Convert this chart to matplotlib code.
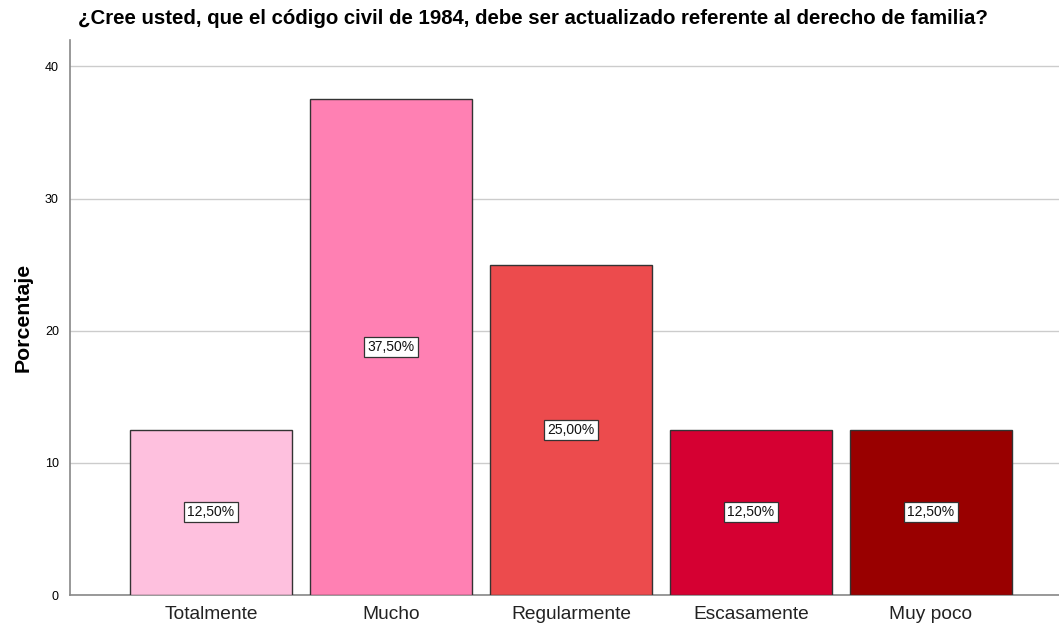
import matplotlib
matplotlib.use("Agg")
import matplotlib.pyplot as plt

categories = ["Totalmente", "Mucho", "Regularmente", "Escasamente", "Muy poco"]
values = [12.5, 37.5, 25.0, 12.5, 12.5]
labels = ["12,50%", "37,50%", "25,00%", "12,50%", "12,50%"]
colors = ["#FEC0DE", "#FF80B3", "#EC4B4D", "#D50032", "#990000"]
yticks = [0, 10, 20, 30, 40]

plt.rcParams['font.family'] = ['Liberation Sans', 'DejaVu Sans']

fig = plt.figure(figsize=(10.59, 6.27), dpi=100)
ax = fig.add_axes([70/1059, 1-595/627, (1059-70)/1059, (595-40)/627])

x = list(range(len(categories)))
ax.bar(x, values, width=0.9, color=colors, edgecolor="#333333", linewidth=1.0, zorder=3)
for xi, v, lab in zip(x, values, labels):
    ax.text(xi, v/2, lab, ha="center", va="center", fontsize=10, zorder=4, color="#111111",
            bbox=dict(boxstyle="square,pad=0.22", facecolor="white", edgecolor="#333333", linewidth=0.9))

ax.set_xlim(-0.783, 4.711)
ax.set_ylim(0, 42)
ax.set_yticks(yticks)
ax.set_yticklabels([str(t) for t in yticks], fontsize=9)
ax.set_xticks(x)
ax.set_xticklabels(categories, fontsize=13.8, color="#222222")
ax.tick_params(axis="x", length=0, pad=8)
ax.tick_params(axis="y", length=0, pad=8)
ax.yaxis.grid(True, color="#CCCCCC", linewidth=1.0, zorder=0)
ax.set_axisbelow(True)
for s in ["top", "right"]:
    ax.spines[s].set_visible(False)
for s in ["left", "bottom"]:
    ax.spines[s].set_color("#888888")
    ax.spines[s].set_linewidth(1.2)
ax.set_ylabel("Porcentaje", fontsize=15.3, fontweight="bold", labelpad=9)
fig.text(78/1059, 1-18/627, "¿Cree usted, que el código civil de 1984, debe ser actualizado referente al derecho de familia?",
         fontsize=14.7, fontweight="bold", ha="left", va="center")

fig.savefig("out.png", dpi=100)
